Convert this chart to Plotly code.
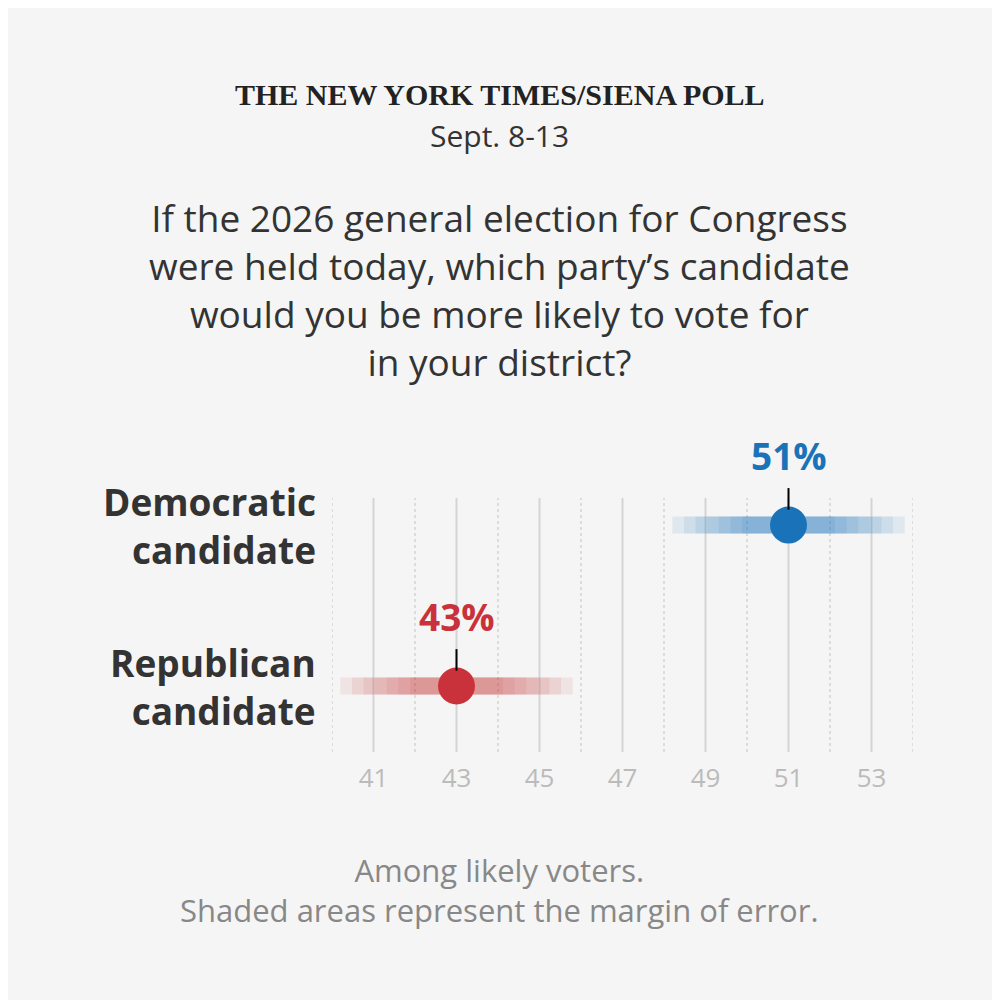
import plotly.graph_objects as go

candidates = ["Democratic<br>candidate", "Republican<br>candidate"]
values = [51, 43]
moe = [2.8, 2.8]
colors = ["#1a73b8", "#c9323a"]
bar_rgb = ["26,115,184", "201,50,58"]
ticks = [41, 43, 45, 47, 49, 51, 53]
rows = [1, 0]
row_paper = [0.894, 0.26]

fig = go.Figure()
F = "Open Sans"

shapes = []
for v in range(40, 55):
    shapes.append(dict(type="line", xref="x", yref="paper", x0=v, x1=v, y0=0, y1=1,
                       line=dict(color="#d4d4d4", width=2 if v % 2 else 1.5, dash="solid" if v % 2 else "dot"),
                       layer="below"))

layers = [1.0, 0.9, 0.8, 0.7, 0.6, 0.5, 0.4]
for i in range(2):
    for frac in layers:
        fig.add_trace(go.Scatter(x=[values[i] - moe[i] * frac, values[i] + moe[i] * frac], y=[rows[i]] * 2,
                                 mode="lines", line=dict(color=f"rgba({bar_rgb[i]},0.09)", width=17),
                                 hoverinfo="skip", showlegend=False))
    fig.add_trace(go.Scatter(x=[values[i]], y=[rows[i]], mode="markers",
                             marker=dict(color=colors[i], size=37), showlegend=False))
    rp = row_paper[i]
    shapes.append(dict(type="line", xref="x", yref="paper", x0=values[i], x1=values[i],
                       y0=rp + 0.06, y1=rp + 0.145, line=dict(color="black", width=2)))
    fig.add_annotation(x=values[i], y=rp + 0.165, yref="paper", text=f"<b>{values[i]}%</b>", showarrow=False,
                       yanchor="bottom", xanchor="center", font=dict(family=F, size=37, color=colors[i]))
    fig.add_annotation(x=0, xref="paper", xshift=-14, y=rows[i], text=f"<b>{candidates[i]}</b>",
                       showarrow=False, xanchor="right", align="right",
                       font=dict(family=F, size=37, color="#333"))

texts = [
    (2.587, "<b>THE NEW YORK TIMES/SIENA POLL</b>", 30, "#222", "Liberation Serif"),
    (2.429, "Sept. 8-13", 30, "#333", F),
    (1.819, "If the 2026 general election for Congress<br>were held today, which party’s candidate<br>would you be more likely to vote for<br>in your district?", 37, "#333", F),
    (-0.543, "Among likely voters.<br>Shaded areas represent the margin of error.", 31, "#888", F),
]
for y, t, s, c, f in texts:
    fig.add_annotation(x=0.289, y=y, xref="paper", yref="paper", text=t, showarrow=False,
                       xanchor="center", align="center",
                       font=dict(family=f, size=s, color=c), yanchor="middle")

fig.update_layout(
    width=1000, height=1000, paper_bgcolor="#f5f5f5", plot_bgcolor="#f5f5f5",
    margin=dict(l=324, r=95, t=490, b=256), shapes=shapes,
    xaxis=dict(range=[40, 54], tickvals=ticks, showgrid=False, zeroline=False, showline=False,
               tickfont=dict(family=F, size=26, color="#bbb"), ticks="", ticklabelstandoff=8),
    yaxis=dict(range=[-0.41, 1.168], visible=False),
)
fig.write_html("out.html")
